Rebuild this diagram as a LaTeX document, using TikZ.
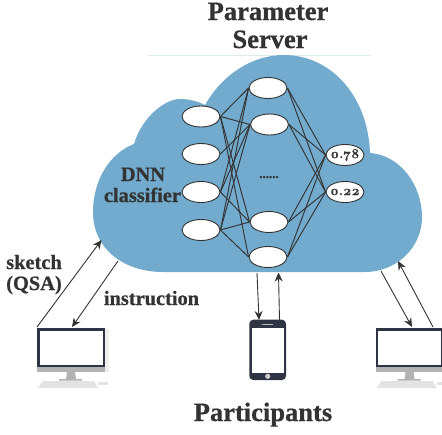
\documentclass[tikz,border=0pt]{standalone}
\usepackage{fontspec}
\setmainfont{Liberation Serif}[BoldFeatures={FakeBold=0.7}]
\newfontfamily\oldnum{Latin Modern Roman}[Numbers=OldStyle,BoldFeatures={FakeBold=0.6}]
\usetikzlibrary{shapes.geometric,arrows.meta}
\definecolor{cloudblue}{HTML}{72ABCD}
\definecolor{ink}{HTML}{333333}
\definecolor{device}{HTML}{2F3444}
\tikzset{
  neuron/.style={ellipse,draw=ink,fill=white,line width=0.9pt,minimum width=38pt,minimum height=21pt,inner sep=0pt,text=ink},
  link/.style={draw=ink,line width=0.95pt},
  flow/.style={draw=ink,line width=0.9pt,-{Stealth[length=9pt,width=8pt]}},
  big/.style={anchor=base,text=ink,font=\fontsize{26.5}{30}\selectfont\bfseries,inner sep=0pt},
  mid/.style={anchor=base,text=ink,font=\fontsize{20.4}{24}\selectfont\bfseries,inner sep=0pt},
  val/.style={font=\oldnum\fontsize{13.5}{14}\selectfont\bfseries},
}
\newcommand{\monitorat}[1]{%
  \begin{scope}[shift={(#1,0)}]
    \fill[black!6] (68,328.5) rectangle (72,372);
    \fill[black!30] (0,365) rectangle (68,372);
    \fill[device] (0,328) rectangle (68,367);
    \fill[white] (2.5,331) rectangle (65.5,365);
    \fill[black!30] (30,372) -- (38,372) -- (39,379) -- (45,379) -- (45,380.5) -- (22,380.5) -- (22,379) -- (29,379) -- cycle;
    \fill[black!11] (1,388) -- (6,381) -- (57,381) -- (61,388) -- cycle;
    \fill[black!11] (61,382) rectangle (71,385);
  \end{scope}}
\begin{document}
\begin{tikzpicture}[x=1pt,y=-1pt]
\useasboundingbox (0,0) rectangle (442,434);
\clip (0,0) rectangle (442,434);
\draw[draw=cloudblue!25,line width=0.5pt] (148,55) -- (371,55);
\fill[cloudblue] (134,144) .. controls (142,117) and (165,99) .. (180,99)
  .. controls (189,99) and (197,101) .. (205,105)
  .. controls (222,75) and (252,55) .. (284,55)
  .. controls (330,55) and (368,95) .. (370,153)
  .. controls (400,155) and (422,185) .. (422,217)
  .. controls (422,248) and (396,272) .. (365,272)
  -- (163,272)
  .. controls (125,272) and (93,250) .. (93,212)
  .. controls (93,180) and (110,153) .. (134,144) -- cycle;
\node[neuron] (i1) at (201,116.5) {};
\node[neuron] (i2) at (201,154) {};
\node[neuron] (i3) at (201,192) {};
\node[neuron] (i4) at (201,230) {};
\node[neuron] (h1) at (268,88) {};
\node[neuron] (h2) at (269.5,124.5) {};
\node[neuron] (h3) at (269,222) {};
\node[neuron] (h4) at (268,257) {};
\node[neuron,val] (o1) at (345,155) {\makebox[0pt]{0.78}};
\node[neuron,val] (o2) at (345,192) {\makebox[0pt]{0.22}};
\foreach \a/\b in {i1/h1,i1/h2,i1/h3,i1/h4,i2/h2,i3/h1,i3/h2,i3/h3,i4/h1,i4/h2,i4/h3,i4/h4}
  \draw[link] (\a.east) -- (\b.west);
\foreach \a in {h1,h2,h3,h4} \foreach \b in {o1,o2} \draw[link] (\a.east) -- (\b.west);
\node[big] (ttl1) at (268,20) {Parameter};
\node[big] (ttl2) at (270,48) {Server};
\node[big] (ttl3) at (263,421) {Participants};
\node[mid] (dnn) at (143,181) {DNN};
\node[mid] (clf) at (142.5,202) {classifier};
\node[mid] (sk) at (34,269) {sketch};
\node[mid] (qsa) at (34,290) {(QSA)};
\node[mid] (ins) at (151.5,305) {instruction};
\node[anchor=base,text=ink,font=\fontsize{13}{14}\selectfont\bfseries,inner sep=0pt] (dots) at (269,178) {......};
\monitorat{37}
\monitorat{375.5}
\fill[device,rounded corners=4pt] (249.3,319.7) rectangle (286,380);
\fill[white] (251.5,328) rectangle (284,372.7);
\fill[black!25] (263,323.8) rectangle (273,324.8);
\fill[black!25] (262,324.3) circle (0.6);
\fill[black!20] (267.7,376.3) circle (2.6);
\coordinate (a1) at (37,327);
\coordinate (b1) at (101.5,240);
\coordinate (a2) at (118,261);
\coordinate (b2) at (72,327);
\coordinate (a3) at (257,273);
\coordinate (b3) at (259,320);
\coordinate (a4) at (279.5,320);
\coordinate (b4) at (278.5,272.5);
\coordinate (a5) at (381,271);
\coordinate (b5) at (412,327);
\coordinate (a6) at (433,327);
\coordinate (b6) at (398,261);
\draw[flow] (a1) -- (b1);
\draw[flow] (a2) -- (b2);
\draw[flow] (a3) -- (b3);
\draw[flow] (a4) -- (b4);
\draw[flow] (a5) -- (b5);
\draw[flow] (a6) -- (b6);
\end{tikzpicture}
\end{document}
